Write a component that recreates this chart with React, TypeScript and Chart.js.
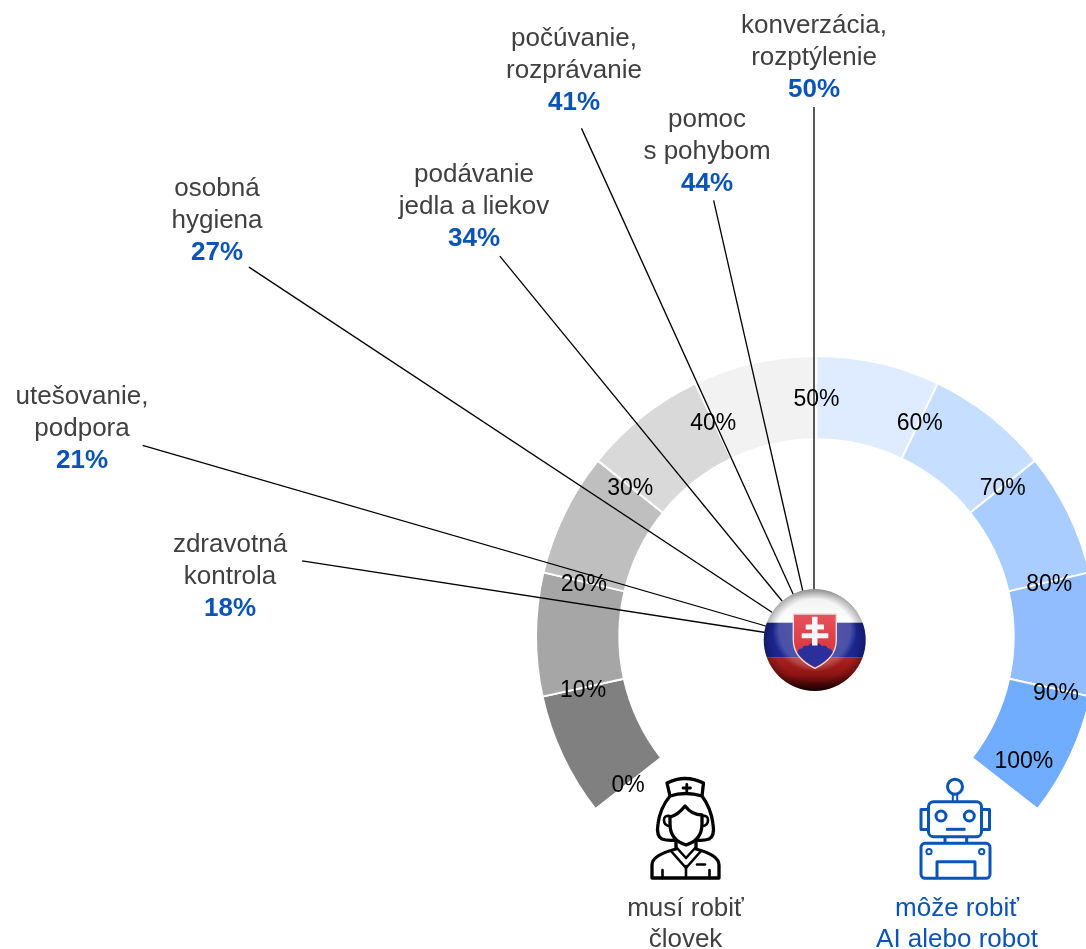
import React, { useEffect, useRef } from "react";
import { Chart, registerables } from "chart.js";

Chart.register(...registerables);

// ---- data ----
const bandValues = [10, 10, 10, 10, 10, 10, 10, 10, 10, 10];
const bandColors = ["#808080", "#a6a6a6", "#bfbfbf", "#d9d9d9", "#f2f2f2", "#dfebff", "#c6deff", "#a9cdff", "#91bdff", "#70adff"];
const gaugeTicks = [0, 10, 20, 30, 40, 50, 60, 70, 80, 90, 100];
const activityNames = [
  ["zdravotná", "kontrola"],
  ["utešovanie,", "podpora"],
  ["osobná", "hygiena"],
  ["podávanie", "jedla a liekov"],
  ["počúvanie,", "rozprávanie"],
  ["pomoc", "s pohybom"],
  ["konverzácia,", "rozptýlenie"],
];
const activityValues = [18, 21, 27, 34, 41, 44, 50];
const humanCaption = ["musí robiť", "človek"];
const robotCaption = ["môže robiť", "AI alebo robot"];

// ---- layout ----
const VIEW_W = 1086;
const VIEW_H = 949;
const CANVAS_W = 1633;
const CANVAS_H = 1165;
const ROTATION = -128;
const SWEEP = 256;
const OUTER = 280.5;
const HUB = { x: 814, y: 640 };
const labelCenters = [
  [230, 545], [82, 397], [217, 189], [474, 175], [574, 39], [707, 120], [814, 26],
];
const leaderLengths = [518, 699, 677, 496, 562, 451, 533];
const leaderNudges = [0.7, 0.4, 2.3, 1.66, -1.4, 2.5, 0];
const tickNudges: Record<number, [number, number]> = { 90: [6, 3], 100: [19, -24] };
const TICK_RADIUS = 239;
const TICK_DROP = 2.5;
const FONT = '"Liberation Sans", Arial, sans-serif';
const TEXT_GREY = "#404040";
const BLUE = "#0a54b8";

const overlayPlugin = {
  id: "gaugeOverlay",
  afterDatasetsDraw(chart: any) {
    const { ctx } = chart;
    const arc = chart.getDatasetMeta(0).data[0];
    const cx = arc.x;
    const cy = arc.y;
    const angleOf = (pct: number) => ((ROTATION + (pct / 100) * SWEEP - 90) * Math.PI) / 180;
    ctx.save();

    // leader lines
    ctx.strokeStyle = "#000";
    ctx.lineWidth = 1.3;
    activityValues.forEach((v, i) => {
      const a = angleOf(v) + (leaderNudges[i] * Math.PI) / 180;
      ctx.beginPath();
      ctx.moveTo(HUB.x, HUB.y);
      ctx.lineTo(HUB.x + Math.cos(a) * leaderLengths[i], HUB.y + Math.sin(a) * leaderLengths[i]);
      ctx.stroke();
    });

    // gauge tick labels
    ctx.textAlign = "center";
    ctx.textBaseline = "middle";
    ctx.fillStyle = "#000";
    ctx.font = `23px ${FONT}`;
    gaugeTicks.forEach((t) => {
      const a = angleOf(t);
      const n = tickNudges[t] || [0, 0];
      ctx.fillText(`${t}%`, cx + Math.cos(a) * TICK_RADIUS + n[0], cy + Math.sin(a) * TICK_RADIUS + n[1] + TICK_DROP);
    });

    // activity labels
    activityNames.forEach((lines, i) => {
      const [x, y] = labelCenters[i];
      ctx.font = `26px ${FONT}`;
      ctx.fillStyle = TEXT_GREY;
      lines.forEach((line, j) => ctx.fillText(line, x, y + j * 32));
      ctx.font = `bold 26px ${FONT}`;
      ctx.fillStyle = BLUE;
      ctx.fillText(`${activityValues[i]}%`, x, y + 64);
    });

    // captions
    ctx.font = `26px ${FONT}`;
    ctx.fillStyle = TEXT_GREY;
    humanCaption.forEach((line, j) => ctx.fillText(line, 685.5, 909 + j * 31));
    ctx.fillStyle = BLUE;
    robotCaption.forEach((line, j) => ctx.fillText(line, 957, 909 + j * 31));
    ctx.restore();
  },
};

function Decorations() {
  const s = 3.3;
  return (
    <svg
      width={VIEW_W}
      height={VIEW_H}
      viewBox={`0 0 ${VIEW_W} ${VIEW_H}`}
      style={{ position: "absolute", left: 0, top: 0, pointerEvents: "none" }}
    >
      <defs>
        <clipPath id="ball">
          <circle cx="814.7" cy="640" r="51" />
        </clipPath>
        <linearGradient id="whiteBand" x1="0" y1="0" x2="0" y2="1">
          <stop offset="0" stopColor="#c4c4c4" />
          <stop offset="0.3" stopColor="#f0f0f0" />
          <stop offset="1" stopColor="#ffffff" />
        </linearGradient>
        <linearGradient id="redBand" x1="0" y1="0" x2="0" y2="1">
          <stop offset="0" stopColor="#b02020" />
          <stop offset="0.5" stopColor="#8f1414" />
          <stop offset="1" stopColor="#1a0000" />
        </linearGradient>
        <linearGradient id="shieldFill" x1="0" y1="0" x2="0" y2="1">
          <stop offset="0" stopColor="#e8525a" />
          <stop offset="1" stopColor="#d02c36" />
        </linearGradient>
        <radialGradient id="rim" cx="814.7" cy="640" r="51" gradientUnits="userSpaceOnUse">
          <stop offset="0.8" stopColor="#000" stopOpacity="0" />
          <stop offset="1" stopColor="#000" stopOpacity="0.3" />
        </radialGradient>
        <radialGradient id="sheen" cx="814.7" cy="630" r="42" gradientUnits="userSpaceOnUse">
          <stop offset="0" stopColor="#fff" stopOpacity="0.28" />
          <stop offset="0.85" stopColor="#fff" stopOpacity="0.2" />
          <stop offset="1" stopColor="#fff" stopOpacity="0" />
        </radialGradient>
      </defs>
      <g clipPath="url(#ball)">
        <rect x="763" y="589" width="104" height="34" fill="url(#whiteBand)" />
        <rect x="763" y="622.7" width="104" height="35" fill="#1c2590" />
        <rect x="763" y="657.7" width="104" height="34" fill="url(#redBand)" />
        <circle cx="814.7" cy="630" r="42" fill="url(#sheen)" />
        <circle cx="814.7" cy="640" r="51" fill="url(#rim)" />
      </g>
      {/* shield */}
      <path
        d="M793.3 614 H836.3 V640 Q836.3 658 815 668.3 Q793.3 658 793.3 640 Z"
        fill="url(#shieldFill)"
        stroke="#e6dde2"
        strokeWidth="1.4"
      />
      <path d="M797.5 653 Q798 648 802 648.5 Q804 644.5 808 646 Q811 642.5 815 642.5 Q819 642.5 822 646 Q826 644.5 828 648.5 Q832 648 832.5 653 Q826 662 815 667 Q804 662 797.5 653 Z" fill="#2a2f9c" />
      <path
        d="M812 616.7 H817.5 V624.5 H824 V629.5 H817.5 V633.2 H828.3 V638.2 H817.5 V645.5 H812 V638.2 H801.7 V633.2 H812 V629.5 H805.7 V624.5 H812 Z"
        fill="#fdf6f6"
      />
      {/* nurse */}
      <g fill="none" stroke="#000" strokeWidth={s} strokeLinejoin="round" strokeLinecap="round">
        <path d="M667 783 Q685 774 703.5 783 L702 796 Q685 791 670 796 Z" />
        <path d="M686.8 784.5 V791.5 M683 788 H690.5" strokeWidth={2.8} />
        <path d="M670 796 Q660 808 658 824 Q656 836 662 839 Q668 841 676 840" />
        <path d="M702 796 Q711 808 713 824 Q715 836 709 839 Q703 841 696 840" />
        <path d="M670 817 V824 Q670 840 686 845 Q702 840 702 824 V815 Q692 815 685 806 Q678 815 670 817 Z" />
        <path d="M670 816 Q664 815 664 820 Q664 826 670 826 M702 816 Q708 815 708 820 Q708 826 702 826" strokeWidth={2.6} />
        <path d="M676 842 V849 Q652 855 652 865 V878 H719 V865 Q719 855 696 849 V842" />
        <path d="M671 851 L686 868 L701 851 M676 847 L686 858 L696 847" strokeWidth={2.6} />
        <path d="M662.5 870 V878 M709.5 870 V878 M686 866 V878" strokeWidth={2.6} />
        <path d="M697 864.5 H705" strokeWidth={2.6} />
      </g>
      {/* robot */}
      <g fill="none" stroke={BLUE} strokeWidth={3} strokeLinejoin="round">
        <circle cx="955" cy="786.7" r="7.5" />
        <path d="M952.8 794.5 V801.7 M957.2 794.5 V801.7" strokeWidth={2} />
        <rect x="928.5" y="801.7" width="53" height="35" rx="5" />
        <rect x="921" y="809.5" width="7.5" height="20" />
        <rect x="981.5" y="809.5" width="8" height="20" />
        <circle cx="941" cy="816" r="5" />
        <circle cx="969.3" cy="816" r="5" />
        <path d="M946 829.3 H965.5" />
        <path d="M945 836.7 V843.3 M966.7 836.7 V843.3" />
        <rect x="921" y="843.3" width="69" height="35" rx="4" />
        <circle cx="929" cy="851.7" r="2.6" strokeWidth={2} />
        <circle cx="981.7" cy="851.7" r="2.6" strokeWidth={2} />
        <path d="M937 878 V861.7 H975 V878" />
      </g>
    </svg>
  );
}

export default function App() {
  const canvasRef = useRef<HTMLCanvasElement | null>(null);

  useEffect(() => {
    if (!canvasRef.current) return;
    const chart = new Chart(canvasRef.current, {
      type: "doughnut",
      data: {
        labels: gaugeTicks.slice(1).map((t) => `${t - 10}–${t}%`),
        datasets: [
          {
            data: bandValues,
            backgroundColor: bandColors,
            borderColor: "#ffffff",
            borderWidth: 2,
          },
        ],
      },
      options: {
        responsive: false,
        animation: false,
        rotation: ROTATION,
        circumference: SWEEP,
        radius: OUTER,
        cutout: "70.3%",
        layout: { padding: 0 },
        plugins: { legend: { display: false }, tooltip: { enabled: false }, title: { display: false } },
      },
      plugins: [overlayPlugin],
    } as any);
    return () => chart.destroy();
  }, []);

  return (
    <div
      style={{
        position: "fixed",
        left: 0,
        top: 0,
        width: VIEW_W,
        height: VIEW_H,
        overflow: "hidden",
        background: "#fff",
      }}
    >
      <canvas
        ref={canvasRef}
        width={CANVAS_W}
        height={CANVAS_H}
        style={{ position: "absolute", left: 0, top: 0, width: CANVAS_W, height: CANVAS_H }}
      />
      <Decorations />
    </div>
  );
}
